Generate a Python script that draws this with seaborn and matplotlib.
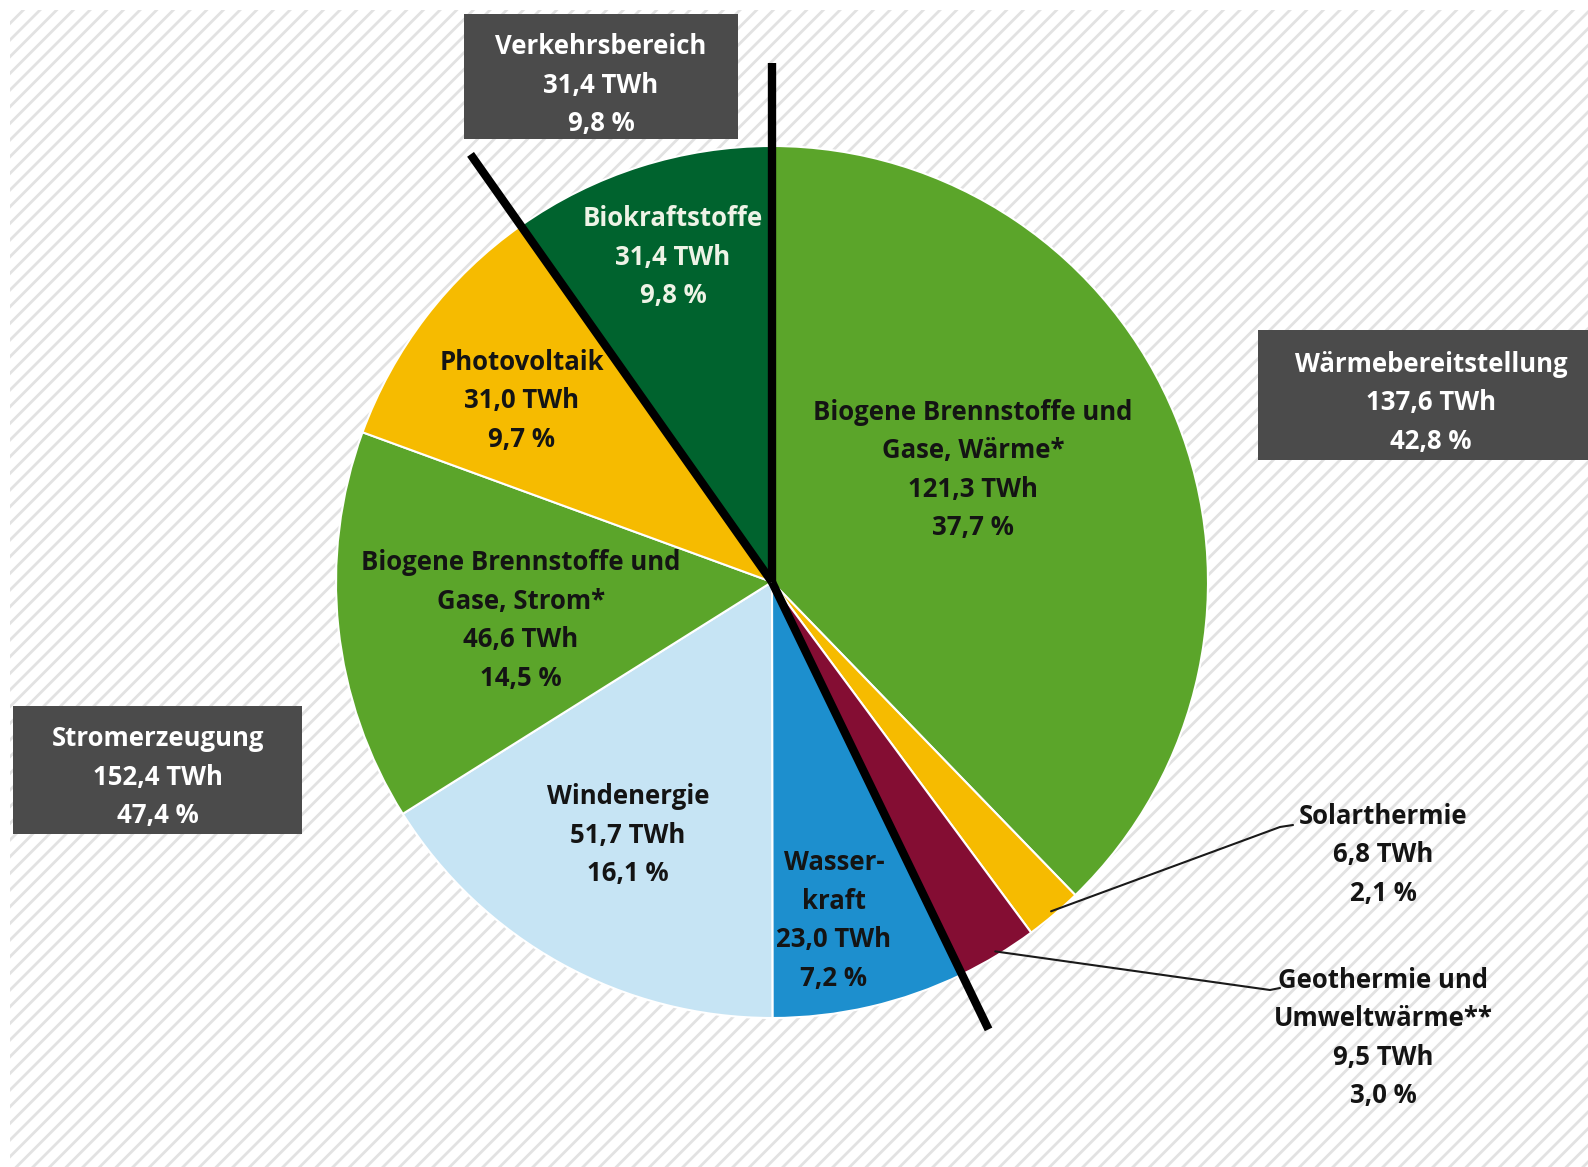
import numpy as np
import matplotlib
matplotlib.use("Agg")
import matplotlib.pyplot as plt
from matplotlib.patches import Rectangle
import seaborn as sns

# Renewable energy supply by source (TWh and share of total)
sources = [
    "Biogene Brennstoffe und\nGase, Wärme*",
    "Solarthermie",
    "Geothermie und\nUmweltwärme**",
    "Wasser-\nkraft",
    "Windenergie",
    "Biogene Brennstoffe und\nGase, Strom*",
    "Photovoltaik",
    "Biokraftstoffe",
]
twh = [121.3, 6.8, 9.5, 23.0, 51.7, 46.6, 31.0, 31.4]
share = [37.7, 2.1, 3.0, 7.2, 16.1, 14.5, 9.7, 9.8]

# Sector totals
sectors = ["Verkehrsbereich", "Wärmebereitstellung", "Stromerzeugung"]
sector_twh = [31.4, 137.6, 152.4]
sector_share = [9.8, 42.8, 47.4]

GREEN = "#5BA52A"
DARKGREEN = "#00632E"
YELLOW = "#F6BB00"
DARKRED = "#840D33"
BLUE = "#1D8FCE"
LIGHTBLUE = "#C6E4F4"
colors = [GREEN, YELLOW, DARKRED, BLUE, LIGHTBLUE, GREEN, YELLOW, DARKGREEN]

sns.set_theme(style="white")
plt.rcParams["font.family"] = ["Open Sans", "DejaVu Sans"]
plt.rcParams["hatch.linewidth"] = 2.0

W, H = 1588, 1167
fig = plt.figure(figsize=(W / 100, H / 100), dpi=100)
ax = fig.add_axes([0, 0, 1, 1])


def de(v):
    return f"{v:.1f}".replace(".", ",")


def Y(y):
    return H - y


# hatched backdrop
bg = Rectangle((10, 0), W - 10, H - 10, facecolor="white", edgecolor="#e2e2e2",
               hatch="//", linewidth=0, zorder=0)
ax.add_patch(bg)

cx, cy, R = 772, Y(582), 436
wedges, _ = ax.pie(twh, colors=colors, startangle=90, counterclock=False,
                   center=(cx, cy), radius=R,
                   wedgeprops=dict(edgecolor="white", linewidth=1.5, zorder=2))
for w in wedges:
    w.set_zorder(2)

ax.set_xlim(0, W)
ax.set_ylim(0, H)
ax.set_aspect("auto")
ax.axis("off")

frac = np.cumsum(twh) / np.sum(twh)
starts = np.concatenate([[0], frac[:-1]])
mids = 90 - 360 * (starts + frac) / 2
ends = 90 - 360 * frac

# sector separators
for ang, length in [(90, 1.19), (ends[6], 1.20), (ends[2], 1.14)]:
    a = np.deg2rad(ang)
    ax.plot([cx, cx + length * R * np.cos(a)], [cy, cy + length * R * np.sin(a)],
            color="black", linewidth=6, solid_capstyle="butt", zorder=4)

fs = 18.5
LS = 38.5
DARK = "#141414"


def block(x, y0, lines, color):
    for i, t in enumerate(lines):
        ax.text(x, Y(y0 + i * LS), t, ha="center", va="center", fontsize=fs,
                fontweight="bold", color=color, zorder=6)


label_pos = [
    (973, 412), (1383, 816), (1383, 980), (834, 863),
    (628, 797), (521, 563), (522, 362), (673, 219),
]
for i, (name, v, p) in enumerate(zip(sources, twh, share)):
    x, y0 = label_pos[i]
    col = "#EEF3E6" if i == 7 else DARK
    block(x, y0, name.split("\n") + [f"{de(v)} TWh", f"{de(p)} %"], col)

# leader lines for the two small slices
for i, (bend, endx) in [(1, ((1280, 827), 1293)), (2, ((1270, 990), 1280))]:
    a = np.deg2rad(mids[i])
    sx, sy = cx + 0.99 * R * np.cos(a), cy + 0.99 * R * np.sin(a)
    ax.plot([sx, bend[0], endx], [sy, Y(bend[1]), Y(bend[1] - 2)],
            color="#1a1a1a", linewidth=1.5, zorder=5)

# sector boxes
boxes = [(464, 14, 738, 139, 601, 47), (1258, 330, 1588, 460, 1431, 364),
         (13, 706, 302, 834, 158, 739)]
for (x0, y0, x1, y1, tx, ty), s, v, p in zip(boxes, sectors, sector_twh, sector_share):
    ax.add_patch(Rectangle((x0, Y(y1)), x1 - x0, y1 - y0, facecolor="#4B4B4B",
                           edgecolor="none", zorder=5))
    block(tx, ty, [s, f"{de(v)} TWh", f"{de(p)} %"], "white")

fig.savefig("out.png", dpi=100, facecolor="white")
